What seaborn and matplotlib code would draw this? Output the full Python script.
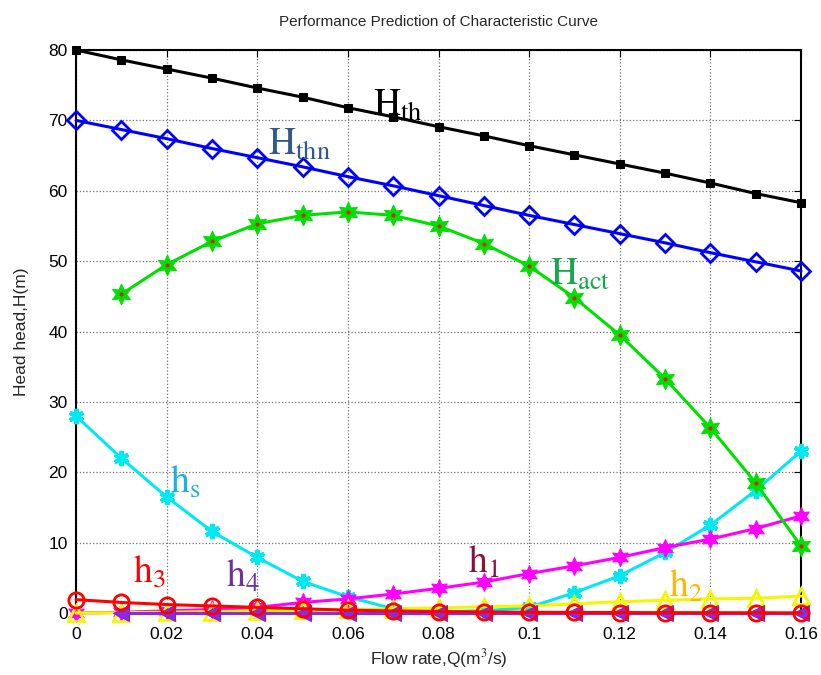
import matplotlib
matplotlib.use('Agg')
import matplotlib.pyplot as plt
import seaborn as sns

# flow rate Q (m3/s)
q = [0, 0.01, 0.02, 0.03, 0.04, 0.05, 0.06, 0.07, 0.08,
     0.09, 0.1, 0.11, 0.12, 0.13, 0.14, 0.15, 0.16]

h_th = [80, 78.6, 77.3, 76, 74.6, 73.3, 71.8, 70.5, 69.1,
        67.8, 66.4, 65.1, 63.8, 62.5, 61.1, 59.6, 58.3]
h_thn = [70, 68.7, 67.4, 66, 64.7, 63.4, 62, 60.7, 59.3,
         57.9, 56.5, 55.2, 53.9, 52.6, 51.2, 49.9, 48.6]
q_act = q[1:]
h_act = [45.3, 49.5, 52.8, 55.3, 56.5, 57, 56.5, 55,
         52.5, 49.3, 44.8, 39.5, 33.3, 26.3, 18.5, 9.5]
h_s = [28, 22, 16.5, 11.6, 7.9, 4.5, 2.3, 0.6, 0.2,
       0.3, 0.8, 2.9, 5.3, 8.6, 12.5, 17.4, 23]
h_1 = [0, 0.1, 0.3, 0.5, 0.8, 1.5, 2.0, 2.7, 3.5,
       4.4, 5.6, 6.7, 7.9, 9.3, 10.5, 12.0, 13.8]
h_2 = [0, 0.05, 0.1, 0.2, 0.3, 0.4, 0.5, 0.6, 0.7,
       0.9, 1.0, 1.3, 1.6, 1.8, 2.0, 2.1, 2.4]
h_3 = [1.9, 1.5, 1.2, 1.0, 0.8, 0.6, 0.4, 0.3, 0.2,
       0.15, 0.1, 0.08, 0.06, 0.05, 0.04, 0.03, 0.02]
q_4 = q[1:]
h_4 = [0.05, 0.05, 0.05, 0.05, 0.05, 0.05, 0.05, 0.05,
       0.05, 0.05, 0.05, 0.05, 0.05, 0.05, 0.05, 0.05]

x_ticks = [0, 0.02, 0.04, 0.06, 0.08, 0.1, 0.12, 0.14, 0.16]
x_labels = ["0", "0.02", "0.04", "0.06", "0.08", "0.1", "0.12", "0.14", "0.16"]
y_ticks = [0, 10, 20, 30, 40, 50, 60, 70, 80]

sns.set_style("white")
plt.rcParams['font.family'] = ['Liberation Sans', 'DejaVu Sans']
plt.rcParams['mathtext.fontset'] = 'stix'

fig = plt.figure(figsize=(8.21, 6.75), dpi=100)
ax = fig.add_axes([76 / 821, 1 - 613 / 675, 725 / 821, 563 / 675])

lw = 2.2
hexa = (6, 1, 0)

sns.lineplot(x=q, y=h_th, ax=ax, color="black", lw=lw, marker="s",
             markersize=6, markeredgecolor="black", zorder=5, clip_on=False)
sns.lineplot(x=q, y=h_thn, ax=ax, color="#0000FF", lw=lw, marker="D",
             markersize=9, markerfacecolor="none", markeredgecolor="#0000FF",
             markeredgewidth=2, zorder=5, clip_on=False)
sns.lineplot(x=q_act, y=h_act, ax=ax, color="#00E000", lw=lw, marker=hexa,
             markersize=15, markeredgecolor="#00E000", markerfacecolor="#00E000",
             zorder=5, clip_on=False)
ax.plot(q_act, h_act, ls="none", marker=".", markersize=4, color="#E02000",
        zorder=6, clip_on=False)
sns.lineplot(x=q, y=h_s, ax=ax, color="#00E8F0", lw=lw, marker=(6, 2, 0),
             markersize=11, markeredgecolor="#00E8F0", markeredgewidth=3,
             zorder=4, clip_on=False)
sns.lineplot(x=q, y=h_1, ax=ax, color="#FF00FF", lw=lw, marker=hexa,
             markersize=13, markeredgecolor="#FF00FF", markerfacecolor="#FF00FF",
             zorder=4, clip_on=False)
sns.lineplot(x=q, y=h_2, ax=ax, color="#F5F500", lw=lw, marker="^",
             markersize=12, markerfacecolor="none", markeredgecolor="#F5F500",
             markeredgewidth=2, zorder=4, clip_on=False)
sns.lineplot(x=q_4, y=h_4, ax=ax, color="#8A2BE2", lw=lw, marker="<",
             markersize=11, markeredgecolor="#7A20E0", zorder=4, clip_on=False)
sns.lineplot(x=q, y=h_3, ax=ax, color="#FF0000", lw=lw, marker="o",
             markersize=11, markerfacecolor="none", markeredgecolor="#FF0000",
             markeredgewidth=2, zorder=5, clip_on=False)

big = 27
ax.text(0.0655, 70.7, r"$\mathrm{H}_{\mathrm{th}}$", fontsize=big, color="black", zorder=7)
ax.text(0.0424, 65.1, r"$\mathrm{H}_{\mathrm{thn}}$", fontsize=big, color="#2E5A8C", zorder=7)
ax.text(0.1046, 46.6, r"$\mathrm{H}_{\mathrm{act}}$", fontsize=big, color="#16A84F", zorder=7)
ax.text(0.0207, 17.0, r"$\mathrm{h}_{\mathrm{s}}$", fontsize=big, color="#19B0E8", zorder=7)
ax.text(0.0865, 5.7, r"$\mathrm{h}_{\mathrm{1}}$", fontsize=big, color="#8B1040", zorder=7)
ax.text(0.1309, 2.3, r"$\mathrm{h}_{\mathrm{2}}$", fontsize=big, color="#FFB800", zorder=7)
ax.text(0.0126, 4.4, r"$\mathrm{h}_{\mathrm{3}}$", fontsize=big, color="#FF0000", zorder=7)
ax.text(0.0331, 3.7, r"$\mathrm{h}_{\mathrm{4}}$", fontsize=big, color="#7030A0", zorder=7)

ax.set_xlim(0, 0.16)
ax.set_ylim(0, 80)
ax.set_xticks(x_ticks)
ax.set_xticklabels(x_labels)
ax.set_yticks(y_ticks)
ax.grid(True, color="#707070", ls=":", lw=0.9)
ax.tick_params(direction="in", labelsize=12.5, length=5, colors="black",
               top=True, right=True)
ax.tick_params(axis="x", pad=10)
ax.tick_params(axis="y", pad=6)
for s in ax.spines.values():
    s.set_visible(True)
    s.set_color("black")
    s.set_linewidth(1.5)

ax.set_xlabel(r"Flow rate,Q(m$^3$/s)", fontsize=12.5, labelpad=4)
ax.set_ylabel("Head head,H(m)", fontsize=12.5, labelpad=14)
ax.set_title("Performance Prediction of Characteristic Curve", fontsize=11, pad=17)

fig.savefig("out.png", dpi=100)
